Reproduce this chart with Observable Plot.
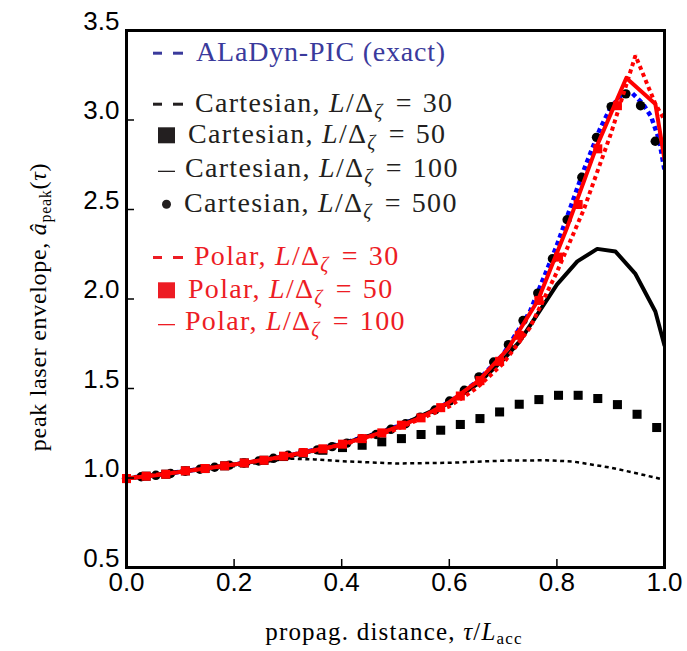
<!DOCTYPE html>
<html><head><meta charset="utf-8">
<script src="https://cdn.jsdelivr.net/npm/d3@7"></script>
<script src="https://cdn.jsdelivr.net/npm/@observablehq/plot@0.6"></script>
<style>body{margin:0;background:#fff}</style>
</head><body><div id="chart"></div>
<script>
// ---- tick labels ----
const xTicks = [0, 0.2, 0.4, 0.6, 0.8, 1.0];
const yTicks = [0.5, 1.0, 1.5, 2.0, 2.5, 3.0, 3.5];

// ---- ALaDyn-PIC (exact) ----
const exactX = [0, 0.05, 0.1, 0.15, 0.2, 0.25, 0.3, 0.35, 0.4, 0.45, 0.5, 0.55, 0.6, 0.65, 0.7, 0.75, 0.8, 0.85, 0.88, 0.9, 0.92, 0.94, 0.96, 0.975, 0.99, 1.0];
const exactY = [1.0, 1.015, 1.035, 1.055, 1.075, 1.097, 1.125, 1.157, 1.193, 1.235, 1.285, 1.345, 1.425, 1.535, 1.69, 1.93, 2.30, 2.72, 2.95, 3.07, 3.14, 3.15, 3.09, 3.02, 2.89, 2.72];

// ---- Cartesian, L/Δζ = 30 ----
const cart30X = [0, 0.1, 0.2, 0.3, 0.35, 0.4, 0.5, 0.6, 0.7, 0.78, 0.83, 0.9, 0.95, 1.0];
const cart30Y = [1.0, 1.03, 1.066, 1.108, 1.104, 1.094, 1.081, 1.085, 1.097, 1.099, 1.092, 1.058, 1.025, 0.99];

// ---- Cartesian, L/Δζ = 50 (squares) ----
const cart50X = [0, 0.0365, 0.073, 0.1095, 0.146, 0.1825, 0.219, 0.2555, 0.292, 0.3285, 0.365, 0.4015, 0.438, 0.4745, 0.511, 0.5475, 0.584, 0.6205, 0.657, 0.6935, 0.73, 0.7665, 0.803, 0.8395, 0.876, 0.9125, 0.949, 0.9855];
const cart50Y = [0.997, 1.010, 1.021, 1.040, 1.053, 1.068, 1.084, 1.099, 1.120, 1.138, 1.155, 1.170, 1.183, 1.202, 1.220, 1.243, 1.267, 1.299, 1.332, 1.369, 1.412, 1.438, 1.462, 1.462, 1.444, 1.410, 1.356, 1.282];

// ---- Cartesian, L/Δζ = 100 (solid) ----
const cart100X = [0, 0.1, 0.2, 0.3, 0.4, 0.5, 0.6, 0.65, 0.7, 0.73, 0.765, 0.80, 0.838, 0.875, 0.909, 0.946, 0.983, 1.0];
const cart100Y = [0.997, 1.035, 1.075, 1.12, 1.19, 1.28, 1.42, 1.52, 1.66, 1.76, 1.92, 2.08, 2.21, 2.28, 2.265, 2.14, 1.93, 1.74];

// ---- Cartesian, L/Δζ = 500 (dots) ----
const cart500X = [0, 0.0273, 0.0546, 0.0819, 0.1092, 0.1365, 0.1638, 0.1911, 0.2184, 0.2457, 0.273, 0.3003, 0.3276, 0.3549, 0.3822, 0.4095, 0.4368, 0.4641, 0.4914, 0.5187, 0.546, 0.5733, 0.6006, 0.6279, 0.6552, 0.6825, 0.7098, 0.7371, 0.7644, 0.7917, 0.819, 0.8463, 0.8736, 0.9009, 0.9282, 0.9555, 0.9828];
const cart500Y = [0.997, 1.007, 1.015, 1.025, 1.038, 1.049, 1.060, 1.072, 1.084, 1.095, 1.110, 1.127, 1.142, 1.157, 1.175, 1.195, 1.219, 1.243, 1.272, 1.303, 1.340, 1.380, 1.430, 1.490, 1.565, 1.648, 1.745, 1.880, 2.033, 2.225, 2.443, 2.680, 2.903, 3.075, 3.146, 3.080, 2.881];

// ---- Polar, L/Δζ = 30 (dotted) ----
const polar30X = [0, 0.1, 0.2, 0.3, 0.4, 0.5, 0.6, 0.65, 0.7, 0.75, 0.8, 0.85, 0.9, 0.946, 0.983, 1.0];
const polar30Y = [0.997, 1.035, 1.075, 1.12, 1.185, 1.27, 1.40, 1.50, 1.64, 1.84, 2.15, 2.5, 2.92, 3.36, 3.09, 3.0];

// ---- Polar, L/Δζ = 50 (squares) ----
const polar50X = [0, 0.0365, 0.073, 0.1095, 0.146, 0.1825, 0.219, 0.2555, 0.292, 0.3285, 0.365, 0.4015, 0.438, 0.4745, 0.511, 0.5475, 0.584, 0.6205, 0.657, 0.6935, 0.73, 0.7665, 0.803, 0.8395, 0.876, 0.9125];
const polar50Y = [0.997, 1.010, 1.021, 1.040, 1.053, 1.068, 1.084, 1.099, 1.122, 1.142, 1.163, 1.189, 1.220, 1.252, 1.295, 1.336, 1.393, 1.458, 1.544, 1.652, 1.797, 1.992, 2.234, 2.528, 2.839, 3.080];

// ---- Polar, L/Δζ = 100 (solid) ----
const polar100X = [0, 0.0546, 0.1092, 0.1638, 0.2184, 0.273, 0.3276, 0.3822, 0.4368, 0.4914, 0.546, 0.6006, 0.6552, 0.7098, 0.7644, 0.819, 0.8736, 0.929, 0.983, 1.0];
const polar100Y = [0.997, 1.015, 1.038, 1.060, 1.084, 1.110, 1.142, 1.175, 1.219, 1.272, 1.336, 1.425, 1.545, 1.725, 1.99, 2.40, 2.85, 3.235, 3.09, 2.78];

const rows = (xs, ys) => xs.map((x, i) => ({x, y: ys[i]}));

const W = 687, H = 651;
const mL = 126, mR = 23, mT = 30, mB = 84;
const plotW = W - mL - mR, plotH = H - mT - mB;
const tick = 8;
const dotted = {strokeLinecap: "butt", strokeLinejoin: "miter", clip: true};

const chart = Plot.plot({
  width: W, height: H,
  marginLeft: mL, marginRight: mR, marginTop: mT, marginBottom: mB,
  x: {domain: [0, 1]},
  y: {domain: [0.5, 3.5]},
  style: {fontFamily: "'Liberation Sans', Arial, sans-serif", fontSize: "26px", color: "black", background: "white"},
  marks: [
    Plot.line(rows(exactX, exactY), {x: "x", y: "y", stroke: "#0000ff", strokeWidth: 4.5, strokeDasharray: "4.5 3.5", ...dotted}),
    Plot.line(rows(cart30X, cart30Y), {x: "x", y: "y", stroke: "black", strokeWidth: 2.5, strokeDasharray: "4 3.5", ...dotted}),
    Plot.dot(rows(cart50X, cart50Y), {x: "x", y: "y", symbol: "square", r: 5.1, fill: "black", stroke: "none"}),
    Plot.line(rows(cart100X, cart100Y), {x: "x", y: "y", stroke: "black", strokeWidth: 4, clip: true}),
    Plot.dot(rows(cart500X, cart500Y), {x: "x", y: "y", r: 4.7, fill: "black", stroke: "none"}),
    Plot.line(rows(polar30X, polar30Y), {x: "x", y: "y", stroke: "#ff0000", strokeWidth: 4, strokeDasharray: "4 3.5", ...dotted}),
    Plot.dot(rows(polar50X, polar50Y), {x: "x", y: "y", symbol: "square", r: 5.1, fill: "#ff0000", stroke: "none"}),
    Plot.line(rows(polar100X, polar100Y), {x: "x", y: "y", stroke: "#ff0000", strokeWidth: 4, clip: true}),
    Plot.ruleX(xTicks, {x: d => d, insetTop: plotH - tick, stroke: "black", strokeWidth: 1.5}),
    Plot.ruleY(yTicks, {y: d => d, insetRight: plotW - tick, stroke: "black", strokeWidth: 1.5}),
    Plot.axisX(xTicks, {tickSize: 0, tickPadding: 5, tickFormat: d3.format(".1f"), label: null}),
    Plot.axisY(yTicks, {tickSize: 0, tickPadding: 7, dy: -9, tickFormat: d3.format(".1f"), label: null}),
    Plot.frame({stroke: "black", strokeWidth: 3})
  ]
});
document.getElementById("chart").appendChild(chart);

// ---- text: legend + axis labels ----
const svg = d3.select(chart);
const serif = "'Liberation Serif', 'Times New Roman', serif";
function mathText(x, y, parts, fill, size, anchor = "start") {
  const t = svg.append("text").attr("x", x).attr("y", y).attr("fill", fill)
    .attr("text-anchor", anchor)
    .style("font-family", serif).style("font-size", size + "px");
  for (const p of parts) {
    const s = t.append("tspan").text(p.t);
    if (p.i) s.style("font-style", "italic");
    if (p.dy) s.attr("dy", p.dy);
    if (p.dx) s.attr("dx", p.dx);
    if (p.fs) s.style("font-size", p.fs + "px");
  }
  return t;
}
const legendLabels = ["ALaDyn-PIC (exact)", "Cartesian, ", "Cartesian, ", "Cartesian, ", "Cartesian, ", "Polar, ", "Polar, ", "Polar, "];
const legendRes = [null, "30", "50", "100", "500", "30", "50", "100"];
const legendColors = ["#3a3a9c", "#231f20", "#231f20", "#231f20", "#231f20", "#ed1c24", "#ed1c24", "#ed1c24"];
const legendKinds = ["dash", "dash", "square", "line", "dot", "dash", "square", "line"];
const legendBase = [60.7, 111.7, 143.3, 176.7, 211.7, 265, 298.3, 330];
const legendTextX = [196, 195, 188, 185, 184, 194, 188, 185];
const fs = 28;
legendLabels.forEach((lab, k) => {
  const y = legendBase[k], c = legendColors[k];
  const parts = [{t: lab}];
  if (legendRes[k]) {
    parts.push({t: "L", i: true}, {t: "/Δ"}, {t: "ζ", i: true, dy: 6, fs: 20},
      {t: "=", dy: -6, dx: 12}, {t: legendRes[k], dx: 10});
  }
  mathText(legendTextX[k], y, parts, c, fs).style("letter-spacing", legendRes[k] ? "1.3px" : "0.8px");
  const kind = legendKinds[k];
  if (kind === "dash") {
    svg.append("rect").attr("x", 153).attr("y", y - 9).attr("width", 9).attr("height", 3).attr("fill", c);
    svg.append("rect").attr("x", 173).attr("y", y - 9).attr("width", 10).attr("height", 3).attr("fill", c);
  } else if (kind === "square") {
    svg.append("rect").attr("x", 158).attr("y", y - 16).attr("width", 17).attr("height", 16).attr("fill", c);
  } else if (kind === "line") {
    svg.append("rect").attr("x", 158).attr("y", y - 6).attr("width", 17).attr("height", 1.3).attr("fill", c);
  } else if (kind === "dot") {
    svg.append("circle").attr("cx", 166.5).attr("cy", y - 7.5).attr("r", 4.5).attr("fill", c);
  }
});

// x-axis label
mathText(394, 640, [{t: "propag. distance, "}, {t: "τ", i: true}, {t: "/"}, {t: "L", i: true}, {t: "acc", dy: 4, fs: 17}], "black", 25, "middle")
  .style("letter-spacing", "1.2px");
// y-axis label
mathText(0, 0, [{t: "peak laser envelope, "}, {t: "â", i: true}, {t: "peak", dy: 5, fs: 16}, {t: "(", dy: -5}, {t: "τ", i: true}, {t: ")"}], "black", 24, "middle")
  .style("letter-spacing", "0.7px")
  .attr("transform", "translate(46,307) rotate(-90)");
</script>
</body></html>
